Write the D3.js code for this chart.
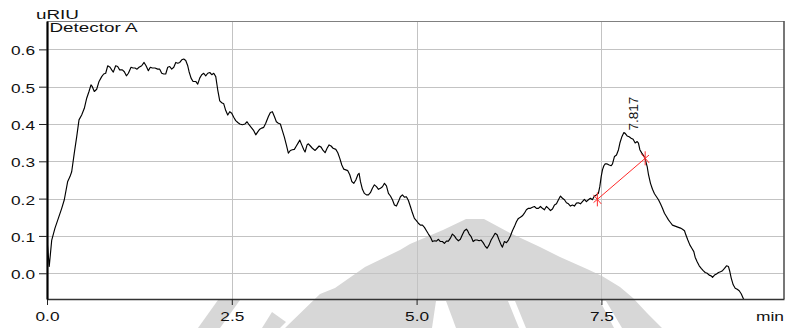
<!DOCTYPE html>
<html>
<head>
<meta charset="utf-8">
<script src="https://cdn.jsdelivr.net/npm/d3@7"></script>
<style>
  html, body { margin: 0; padding: 0; background: #fff; }
  svg { display: block; font-family: "Liberation Sans", Arial, Helvetica, sans-serif; }
</style>
</head>
<body>
<div id="chart"></div>
<script>
// ---- Detector A trace (retention time in min, response in uRIU) ----
const retentionTime = [
  0.000,0.030,0.064,0.108,0.153,0.199,0.234,0.280,0.311,0.334,0.369,0.402,0.433,0.469,0.505,0.537,0.568,0.595,0.613,0.640,
  0.672,0.704,0.740,0.767,0.794,0.821,0.853,0.875,0.897,0.929,0.956,0.983,1.019,1.046,1.074,1.101,1.137,1.164,1.191,1.218,
  1.245,1.281,1.313,1.340,1.371,1.398,1.425,1.461,1.498,1.525,1.552,1.579,1.606,1.633,1.660,1.687,1.715,1.742,1.769,1.796,
  1.823,1.850,1.877,1.904,1.922,1.949,1.976,2.012,2.039,2.066,2.093,2.120,2.147,2.175,2.202,2.229,2.256,2.283,2.310,2.337,
  2.364,2.391,2.418,2.445,2.472,2.499,2.526,2.553,2.581,2.608,2.643,2.679,2.706,2.733,2.770,2.797,2.824,2.851,2.878,2.905,
  2.932,2.959,2.995,3.022,3.049,3.076,3.103,3.130,3.157,3.184,3.211,3.238,3.265,3.292,3.319,3.346,3.373,3.400,3.419,3.446,
  3.474,3.491,3.518,3.536,3.563,3.590,3.627,3.654,3.681,3.708,3.735,3.762,3.789,3.816,3.843,3.870,3.907,3.934,3.961,3.988,
  4.015,4.042,4.069,4.096,4.123,4.151,4.178,4.205,4.222,4.240,4.267,4.294,4.321,4.348,4.375,4.402,4.429,4.457,4.484,4.511,
  4.538,4.565,4.592,4.619,4.646,4.673,4.700,4.727,4.754,4.781,4.808,4.835,4.862,4.889,4.916,4.943,4.970,4.997,5.024,5.051,
  5.079,5.106,5.133,5.160,5.187,5.214,5.241,5.268,5.295,5.322,5.349,5.376,5.403,5.430,5.457,5.484,5.511,5.538,5.565,5.592,
  5.619,5.646,5.673,5.690,5.711,5.738,5.765,5.792,5.819,5.846,5.873,5.900,5.927,5.954,5.981,6.008,6.035,6.062,6.089,6.116,
  6.143,6.161,6.188,6.215,6.242,6.269,6.296,6.323,6.350,6.377,6.404,6.431,6.458,6.485,6.513,6.540,6.567,6.594,6.621,6.648,
  6.675,6.702,6.729,6.756,6.784,6.811,6.838,6.865,6.892,6.919,6.946,6.973,7.000,7.027,7.054,7.081,7.108,7.135,7.162,7.189,
  7.216,7.243,7.270,7.297,7.324,7.351,7.378,7.405,7.432,7.459,7.478,7.497,7.514,7.533,7.551,7.578,7.605,7.632,7.650,7.677,
  7.704,7.731,7.750,7.777,7.804,7.821,7.848,7.875,7.902,7.929,7.957,7.984,8.001,8.020,8.047,8.074,8.092,8.119,8.137,8.164,
  8.191,8.218,8.245,8.272,8.299,8.326,8.353,8.380,8.407,8.434,8.461,8.488,8.515,8.542,8.570,8.597,8.624,8.642,8.669,8.696,
  8.723,8.750,8.768,8.795,8.823,8.850,8.877,8.904,8.931,8.958,8.985,9.003,9.030,9.057,9.084,9.111,9.138,9.165,9.192,9.219,
  9.238,9.256,9.283,9.310,9.337,9.364,9.391,9.418,9.450
];
const response = [
  0.090,0.018,0.089,0.121,0.147,0.174,0.197,0.246,0.259,0.272,0.322,0.366,0.411,0.424,0.442,0.469,0.487,0.505,0.500,0.487,
  0.493,0.514,0.527,0.534,0.536,0.556,0.552,0.545,0.539,0.556,0.554,0.545,0.545,0.540,0.529,0.536,0.552,0.550,0.550,0.547,
  0.552,0.556,0.565,0.556,0.543,0.552,0.550,0.550,0.547,0.547,0.536,0.534,0.534,0.552,0.554,0.547,0.552,0.565,0.563,0.565,
  0.572,0.574,0.570,0.556,0.540,0.523,0.514,0.514,0.507,0.523,0.532,0.536,0.529,0.536,0.538,0.532,0.536,0.527,0.491,0.462,
  0.457,0.454,0.436,0.424,0.433,0.429,0.418,0.409,0.404,0.400,0.398,0.400,0.406,0.398,0.389,0.382,0.371,0.379,0.386,0.389,
  0.391,0.402,0.420,0.431,0.433,0.420,0.406,0.402,0.400,0.382,0.365,0.344,0.322,0.329,0.331,0.332,0.341,0.350,0.357,0.344,
  0.331,0.325,0.344,0.347,0.341,0.335,0.329,0.335,0.341,0.338,0.329,0.323,0.335,0.344,0.341,0.335,0.332,0.323,0.308,0.290,
  0.279,0.277,0.275,0.264,0.246,0.241,0.250,0.264,0.268,0.246,0.225,0.214,0.210,0.210,0.216,0.228,0.237,0.232,0.225,0.228,
  0.232,0.241,0.234,0.214,0.207,0.197,0.183,0.180,0.192,0.205,0.210,0.204,0.205,0.195,0.179,0.162,0.147,0.141,0.134,0.129,
  0.129,0.123,0.114,0.105,0.097,0.085,0.087,0.086,0.091,0.085,0.085,0.080,0.086,0.086,0.094,0.105,0.100,0.092,0.087,0.091,
  0.103,0.114,0.118,0.114,0.105,0.098,0.085,0.089,0.089,0.087,0.089,0.082,0.073,0.067,0.076,0.089,0.098,0.107,0.103,0.089,
  0.076,0.070,0.085,0.082,0.089,0.100,0.114,0.125,0.138,0.147,0.150,0.154,0.161,0.170,0.174,0.174,0.177,0.179,0.174,0.174,
  0.179,0.174,0.170,0.179,0.174,0.168,0.172,0.183,0.186,0.197,0.207,0.201,0.197,0.189,0.186,0.180,0.183,0.180,0.188,0.189,
  0.186,0.192,0.198,0.192,0.197,0.201,0.197,0.207,0.210,0.214,0.232,0.259,0.277,0.288,0.293,0.293,0.290,0.288,0.293,0.313,
  0.317,0.331,0.349,0.366,0.377,0.375,0.368,0.366,0.362,0.359,0.349,0.353,0.349,0.331,0.322,0.314,0.306,0.286,0.264,0.241,
  0.225,0.213,0.205,0.197,0.186,0.174,0.161,0.152,0.143,0.136,0.129,0.127,0.125,0.123,0.121,0.118,0.114,0.103,0.089,0.076,
  0.067,0.058,0.043,0.031,0.020,0.013,0.007,0.002,0.000,-0.005,-0.007,-0.011,-0.005,-0.002,0.002,0.004,0.007,0.013,0.020,0.018,
  0.004,-0.013,-0.031,-0.040,-0.043,-0.047,-0.055,-0.067,-0.080
];

// Integrated peak: apex time/height and the drawn baseline end points
const peakTime = 7.817;
const peakHeight = 0.377;
const peakLabel = "7.817";
const baselineTimes = [7.445, 8.092];
const baselineValues = [0.198, 0.308];

// Axis ticks and titles
const xMajorTicks = [0.0, 2.5, 5.0, 7.5];
const yMajorTicks = [0.0, 0.1, 0.2, 0.3, 0.4, 0.5, 0.6];
const xUnit = "min";
const yUnit = "uRIU";
const channelName = "Detector A";

// ---- layout ----
const W = 785, H = 328;
const plot = { left: 47, right: 784, top: 21, bottom: 299 };
const FONT = 12.5;

const svg = d3.select("#chart").append("svg")
  .attr("width", W).attr("height", H).attr("viewBox", `0 0 ${W} ${H}`);

const x = d3.scaleLinear().domain([0, 9.97]).range([plot.left, plot.right]);
const y = d3.scaleLinear().domain([-0.069, 0.676]).range([plot.bottom, plot.top]);

// ---- faint emblem printed behind the page ----
const emblem = svg.append("g").attr("fill", "#d7d7d7");
emblem.append("path").attr("d", d3.line()([
  [285,328],[320,294],[335,288],[365,267],[400,250],[410,244],[443,230],[466,219],[484,219],
  [510,233],[540,247],[560,257],[587,269],[602,276],[620,287],[633,298],[647,313],[662,328]
]) + "Z");
emblem.append("path").attr("d", d3.line()([[198,328],[220,328],[240,300],[218,300]]) + "Z");
emblem.append("path").attr("d", d3.line()([[262,328],[280,328],[286,322],[272,312]]) + "Z");
const gaps = svg.append("g").attr("fill", "#fff");
gaps.append("path").attr("d", d3.line()([[432,328],[456,328],[446,301],[436,301]]) + "Z");
gaps.append("path").attr("d", d3.line()([[508,301],[515,301],[526,328],[519,328]]) + "Z");
gaps.append("path").attr("d", d3.line()([[600,301],[606,301],[622,328],[614,328]]) + "Z");

// ---- grid ----
const crisp = v => Math.round(v) + 0.5;
const grid = svg.append("g").attr("stroke", "#c3c3c3").attr("stroke-width", 1);
grid.selectAll("line.h").data(yMajorTicks).join("line")
  .attr("x1", plot.left).attr("x2", plot.right)
  .attr("y1", d => crisp(y(d))).attr("y2", d => crisp(y(d)));
grid.selectAll("line.v").data(xMajorTicks.filter(d => d > 0)).join("line")
  .attr("y1", plot.top).attr("y2", plot.bottom)
  .attr("x1", d => crisp(x(d))).attr("x2", d => crisp(x(d)));

// frame: top and right edges
svg.append("line").attr("x1", plot.left).attr("x2", plot.right)
  .attr("y1", plot.top + 0.5).attr("y2", plot.top + 0.5)
  .attr("stroke", "#808080").attr("stroke-width", 1);
svg.append("line").attr("x1", plot.right).attr("x2", plot.right)
  .attr("y1", plot.top).attr("y2", plot.bottom)
  .attr("stroke", "#555").attr("stroke-width", 1.6);

// ---- axes ----
const fmt = d3.format(".1f");
const xMinor = d3.range(0, 9.75, 0.5).filter(t => !xMajorTicks.includes(t));
const yMinor = d3.range(-6, 67, 2).map(k => k / 100).filter(v => Math.abs(Math.round(v * 10) - v * 10) > 1e-6);

const gx = svg.append("g").attr("transform", `translate(0,${plot.bottom})`);
gx.call(d3.axisBottom(x).tickValues(xMinor).tickSize(4).tickSizeOuter(0).tickFormat(""));
gx.call(d3.axisBottom(x).tickValues(xMajorTicks).tickSize(6).tickSizeOuter(0).tickPadding(7).tickFormat(fmt));
gx.select(".domain").attr("stroke", "#333").attr("stroke-width", 1.6);

const gy = svg.append("g").attr("transform", `translate(${plot.left},0)`);
gy.call(d3.axisLeft(y).tickValues(yMinor).tickSize(5).tickSizeOuter(0).tickFormat(""));
gy.call(d3.axisLeft(y).tickValues(yMajorTicks).tickSize(8).tickSizeOuter(0).tickPadding(4).tickFormat(fmt));
gy.select(".domain").attr("stroke", "#000").attr("stroke-width", 2.2);

svg.selectAll(".tick line").attr("stroke", "#222");
svg.selectAll(".tick text")
  .attr("fill", "#111")
  .style("font-size", FONT + "px")
  .attr("textLength", 24).attr("lengthAdjust", "spacingAndGlyphs");
gy.selectAll(".tick text").attr("dy", "0.45em");

// axis titles
svg.append("text").attr("x", plot.right).attr("y", 321).attr("text-anchor", "end")
  .style("font-size", FONT + "px").attr("fill", "#111")
  .attr("textLength", 28).attr("lengthAdjust", "spacingAndGlyphs").text(xUnit);
svg.append("text").attr("x", 36).attr("y", 18.5)
  .style("font-size", FONT + "px").attr("fill", "#111")
  .attr("textLength", 43).attr("lengthAdjust", "spacingAndGlyphs").text(yUnit);
svg.append("text").attr("x", 49.5).attr("y", 32.3)
  .style("font-size", FONT + "px").attr("fill", "#111")
  .attr("textLength", 88).attr("lengthAdjust", "spacingAndGlyphs").text(channelName);

// ---- trace ----
svg.append("clipPath").attr("id", "plotClip").append("rect")
  .attr("x", plot.left).attr("y", plot.top)
  .attr("width", plot.right - plot.left).attr("height", plot.bottom - plot.top);

const trace = retentionTime.map((t, i) => [t, response[i]]);
svg.append("path").datum(trace)
  .attr("clip-path", "url(#plotClip)")
  .attr("fill", "none").attr("stroke", "#000").attr("stroke-width", 1.15)
  .attr("stroke-linejoin", "round")
  .attr("d", d3.line().x(d => x(d[0])).y(d => y(d[1])));

// ---- peak integration baseline and markers ----
const red = "#ff2a2a";
const p0 = [x(baselineTimes[0]), y(baselineValues[0])];
const p1 = [x(baselineTimes[1]), y(baselineValues[1])];
const len = Math.hypot(p1[0] - p0[0], p1[1] - p0[1]);
const ux = (p1[0] - p0[0]) / len, uy = (p1[1] - p0[1]) / len;
const ann = svg.append("g").attr("stroke", red).attr("stroke-width", 1).attr("fill", "none");
ann.append("line")
  .attr("x1", p0[0] - ux * 5).attr("y1", p0[1] - uy * 5)
  .attr("x2", p1[0] + ux * 5).attr("y2", p1[1] + uy * 5);
[p0, p1].forEach(p => {
  ann.append("line").attr("x1", p[0]).attr("x2", p[0]).attr("y1", p[1] - 7).attr("y2", p[1] + 7);
  ann.append("line")
    .attr("x1", p[0] + uy * 6).attr("y1", p[1] - ux * 6)
    .attr("x2", p[0] - uy * 6).attr("y2", p[1] + ux * 6);
});

// retention time label above the apex
const lx = x(peakTime) + 13, ly = y(peakHeight) - 2;
svg.append("text")
  .attr("transform", `translate(${lx},${ly}) rotate(-90)`)
  .style("font-size", "13px").attr("fill", "#111")
  .attr("textLength", 34).attr("lengthAdjust", "spacingAndGlyphs")
  .text(peakLabel);
</script>
</body>
</html>
